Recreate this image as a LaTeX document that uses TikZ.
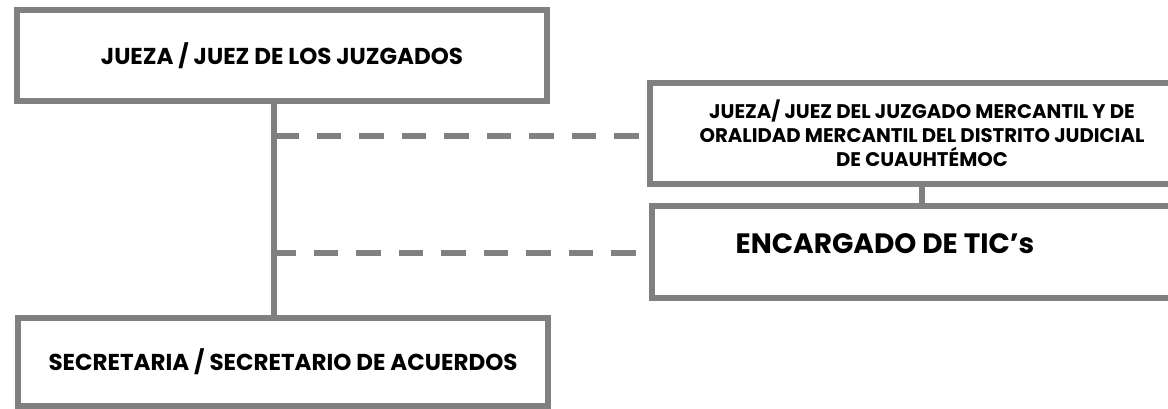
\documentclass[tikz,border=0pt]{standalone}
\usepackage{fontspec}
\setmainfont{Poppins}
\definecolor{gris}{HTML}{808080}
\begin{document}
\begin{tikzpicture}[x=1pt,y=-1pt] % organigrama del juzgado
\tikzstyle{caja} = [rectangle, draw=gris, line width=6pt, inner sep=0pt, align=center, font=\bfseries\fontsize{23}{27}\selectfont] % recuadro de cada puesto
\tikzstyle{linea} = [draw=gris, line width=6pt] % linea continua
\tikzstyle{trazos} = [linea, dash pattern=on 24.5pt off 18pt] % linea discontinua
\useasboundingbox (0,0) rectangle (1168,409);
\clip (0,0) rectangle (1168,409);
\node[caja, minimum width=530pt, minimum height=91pt] (juez) at (282,55.5) {JUEZA / JUEZ DE LOS JUZGADOS};
\node[caja, minimum width=530pt, minimum height=88pt] (secre) at (283,361.5) {SECRETARIA / SECRETARIO DE ACUERDOS};
\node[caja, minimum width=544pt, minimum height=101pt, font=\bfseries\fontsize{19.7}{24}\selectfont] (mercantil) at (922,133.5) {JUEZA/ JUEZ DEL JUZGADO MERCANTIL Y DE\\ ORALIDAD MERCANTIL DEL DISTRITO JUDICIAL\\ DE CUAUHTÉMOC};
\node[caja, minimum width=542pt, minimum height=92pt, font=\bfseries\fontsize{28}{32}\selectfont] (tics) at (923,252) {\rule[-17pt]{0pt}{0pt}ENCARGADO DE TIC’s\hspace*{76pt}};
\coordinate (eje) at (274,0); % eje vertical
\coordinate (d1) at (274,136);
\coordinate (d2) at (274,253);
\draw[linea] (juez.south -| eje) -- (secre.north -| eje);
\draw[linea] (mercantil.south) -- (mercantil.south |- tics.north);
\draw[trazos] (d1) -- ([xshift=-6pt]mercantil.west |- d1);
\draw[trazos, dash phase=3pt] (d2) -- ([xshift=-12pt]tics.west |- d2);
\end{tikzpicture}
\end{document}
